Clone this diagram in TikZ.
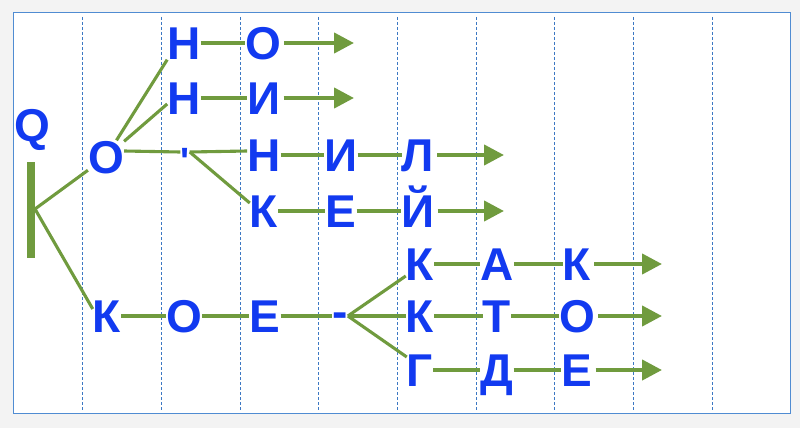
\documentclass[tikz,border=0pt]{standalone}
\usepackage{fontspec}
\newfontfamily\lett[Ligatures=TeXOff]{Liberation Sans}
\usetikzlibrary{arrows.meta}
\definecolor{lblue}{RGB}{18,58,240}
\definecolor{lgreen}{RGB}{112,155,62}
\definecolor{frameblue}{RGB}{80,140,210}
\definecolor{gridblue}{RGB}{60,120,195}
\definecolor{bggray}{RGB}{243,243,243}
\tikzset{
  let/.style={font=\lett\bfseries\fontsize{46}{46}\selectfont, text=lblue, inner sep=0pt, text height=33pt, text depth=0pt},
  apostr/.style={font=\lett\bfseries\fontsize{38}{38}\selectfont, text=lblue, inner sep=0pt},
  conn/.style={draw=lgreen, line width=3.1pt},
  arr/.style={draw=lgreen, line width=4.2pt, -{Triangle[length=20pt,width=20pt]}},
  gridln/.style={draw=gridblue, line width=0.9pt, dash pattern=on 3pt off 2pt},
  barln/.style={draw=lgreen, line width=7.5pt}
}
\begin{document}
\begin{tikzpicture}[x=1pt,y=-1pt]
\useasboundingbox (0,0) rectangle (800,428);
\fill[bggray] (0,0) rectangle (800,428);
\filldraw[fill=white, draw=frameblue, line width=1pt] (13,13) rectangle (790,413);
\foreach \x in {82,161,240,318,397,476,554,633,712} \draw[gridln] (\x,17) -- (\x,410);

% Q and bar
\node[let] (Q) at (32,125) {Q};
\coordinate (bartop) at (31,162);
\coordinate (barbot) at (31,258);
\coordinate (br) at (35,209);
\draw[barln] (bartop) -- (barbot);

% row 1
\node[let] (H1) at (184,43) {Н};
\node[let] (O1) at (263,43) {О};
\coordinate (e1) at (354,43);
% row 2
\node[let] (H2) at (184,98) {Н};
\node[let] (I2) at (264,98) {И};
\coordinate (e2) at (354,98);
% row 3
\node[let] (O3) at (106,157) {О};
\node[apostr] (apo) at (185,152) {\raisebox{-17.9pt}[9.3pt][0pt]{'}};
\node[let] (H3) at (264,155) {Н};
\node[let] (I3) at (341,155) {И};
\node[let] (L3) at (418,155) {Л};
\coordinate (e3) at (504,155);
% row 4
\node[let] (K4) at (264,211) {К};
\node[let] (E4) at (341,211) {Е};
\node[let] (Y4) at (418,211) {Й};
\coordinate (e4) at (504,211);
% row 5
\node[let] (K5) at (420,264) {К};
\node[let] (A5) at (497,264) {А};
\node[let] (K5b) at (577,264) {К};
\coordinate (e5) at (662,264);
% row 6
\node[let] (K6) at (107,316) {К};
\node[let] (O6) at (184,316) {О};
\node[let] (E6) at (265,316) {Е};
\node[let] (dash) at (340,316) {\raisebox{5pt}{-}};
\node[let] (K6b) at (420,316) {К};
\node[let] (T6) at (497,316) {Т};
\node[let] (O6b) at (577,316) {О};
\coordinate (e6) at (662,316);
% row 7
\node[let] (G7) at (420,370) {Г};
\node[let] (D7) at (497,370) {Д};
\node[let] (E7) at (577,370) {Е};
\coordinate (e7) at (662,370);

% connectors
\draw[conn] (br) -- (O3);
\draw[conn] (br) -- ([yshift=7pt]K6.west);
\draw[conn] (O3) -- (H1.south west);
\draw[conn] (O3) -- ([yshift=-6pt]H2.west);
\draw[conn] (H1) -- (O1);
\draw[conn] (H2) -- (I2);
\draw[conn] ([yshift=6pt]O3.east) -- (apo.west);
\draw[conn] (apo.east) -- ([yshift=4pt]H3.west);
\draw[conn] (apo.east) -- ([yshift=8pt]K4.west);
\draw[conn] (H3) -- (I3);
\draw[conn] (I3) -- (L3);
\draw[conn] (K4) -- (E4);
\draw[conn] (E4) -- (Y4);
\draw[conn] (K6) -- (O6);
\draw[conn] (O6) -- (E6);
\draw[conn] (E6) -- (dash);
\draw[conn] (dash) -- (K6b);
\draw[conn] (dash.east) -- ([yshift=-12pt]K5.west);
\draw[conn] (dash.east) -- ([yshift=13pt]G7.west);
\draw[conn] (K5) -- (A5);
\draw[conn] (A5) -- (K5b);
\draw[conn] (K6b) -- (T6);
\draw[conn] (T6) -- (O6b);
\draw[conn] (G7) -- (D7);
\draw[conn] (D7) -- (E7);

% arrows
\draw[arr] ([xshift=3pt]O1.east) -- (e1);
\draw[arr] ([xshift=3pt]I2.east) -- (e2);
\draw[arr] ([xshift=3pt]L3.east) -- (e3);
\draw[arr] ([xshift=3pt]Y4.east) -- (e4);
\draw[arr] ([xshift=3pt]K5b.east) -- (e5);
\draw[arr] ([xshift=3pt]O6b.east) -- (e6);
\draw[arr] ([xshift=3pt]E7.east) -- (e7);
\end{tikzpicture}
\end{document}
